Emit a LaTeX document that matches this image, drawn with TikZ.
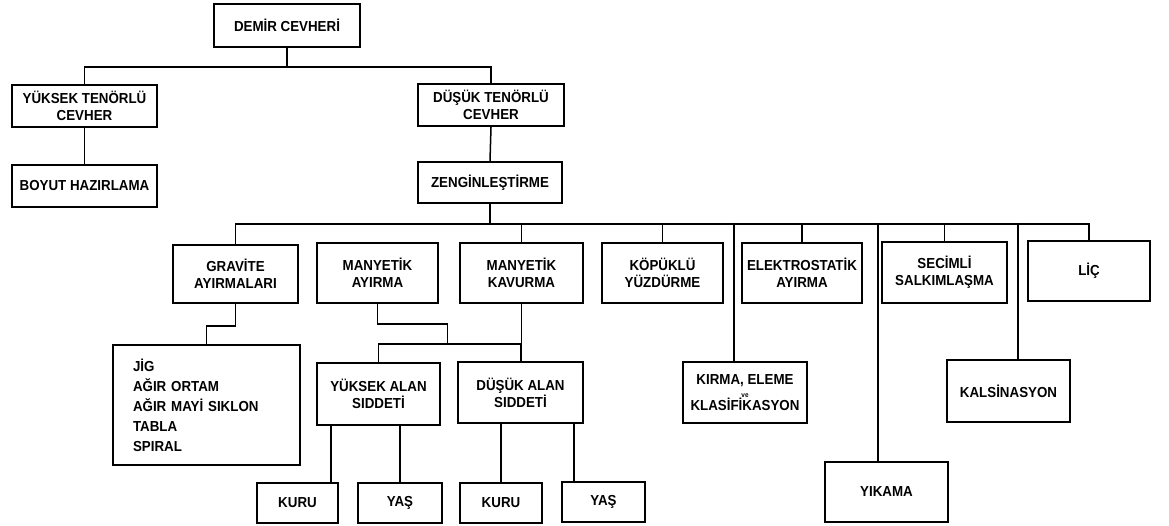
\documentclass[tikz,border=0pt]{standalone}
\usepackage{fontspec}
\setmainfont{Liberation Sans}[FakeStretch=0.92]
\usepackage{tikz}
\usetikzlibrary{positioning,calc}

\begin{document}
\begin{tikzpicture}[x=1pt, y=-1pt, line width=1.5pt,
  box/.style={draw, line width=2pt, inner sep=0pt, align=center, font=\bfseries\fontsize{14.5}{17}\selectfont}]
  \useasboundingbox (0,0) rectangle (1169,526);
  \node[box, minimum width=146pt, minimum height=43pt] (demir) at (287,25.5) {DEMİR CEVHERİ};
  \node[box, minimum width=145pt, minimum height=42pt] (yuksek) at (84.5,106) {YÜKSEK TENÖRLÜ\\CEVHER};
  \node[box, minimum width=145pt, minimum height=42pt] (boyut) at (84.5,186) {BOYUT HAZIRLAMA};
  \node[box, minimum width=146pt, minimum height=42pt] (dusuk) at (491,105) {DÜŞÜK TENÖRLÜ\\CEVHER};
  \node[box, minimum width=144pt, minimum height=41pt] (zengin) at (490,182.5) {ZENGİNLEŞTİRME};
  \node[box, minimum width=125pt, minimum height=58pt] (gravite) at (235.5,274) {GRAVİTE\\AYIRMALARI};
  \node[box, minimum width=121pt, minimum height=60pt] (mayirma) at (377.5,273) {MANYETİK\\AYIRMA};
  \node[box, minimum width=123pt, minimum height=60pt] (mkavurma) at (521.5,273) {MANYETİK\\KAVURMA};
  \node[box, minimum width=121pt, minimum height=60pt] (kopuklu) at (662.5,273) {KÖPÜKLÜ\\YÜZDÜRME};
  \node[box, minimum width=120pt, minimum height=60pt] (elektro) at (802,273) {ELEKTROSTATİK\\AYIRMA};
  \node[box, minimum width=125pt, minimum height=61pt] (secimli) at (944.5,272.5) {SECİMLİ\\SALKIMLAŞMA};
  \node[box, minimum width=122pt, minimum height=60pt] (lic) at (1089,271) {LİÇ};
  \node[box, minimum height=120pt, text width=147pt, inner xsep=20pt, align=left,
    font=\bfseries\fontsize{14.5}{20}\selectfont] (jig) at (206.5,405) {JİG\\AĞIR ORTAM\\AĞIR MAYİ SIKLON\\TABLA\\SPIRAL};
  \node[box, minimum width=123pt, minimum height=62pt] (yalan) at (378.5,394) {YÜKSEK ALAN\\SIDDETİ};
  \node[box, minimum width=125pt, minimum height=61pt] (dalan) at (520.5,392.5) {DÜŞÜK ALAN\\SIDDETİ};
  \node[box, minimum width=81pt, minimum height=40pt] (kuru1) at (297.5,503) {KURU};
  \node[box, minimum width=84pt, minimum height=40pt] (yas1) at (400,503) {YAŞ};
  \node[box, minimum width=82pt, minimum height=40pt] (kuru2) at (501,503) {KURU};
  \node[box, minimum width=83pt, minimum height=40pt] (yas2) at (603.5,502) {YAŞ};
  \node[box, minimum width=124pt, minimum height=61pt] (kirma) at (745,392.5)
    {KIRMA, ELEME\\[-4pt]{\fontsize{7}{7}\selectfont ve}\\[-4pt]KLASİFİKASYON};
  \node[box, minimum width=123pt, minimum height=62pt] (kalsin) at (1008.5,391) {KALSİNASYON};
  \node[box, minimum width=123pt, minimum height=60pt] (yikama) at (886.5,492) {YIKAMA};

  \draw (demir.south) -- ++(0,19) coordinate (t);
  \draw (yuksek.north) |- (t) -| (dusuk.north);
  \draw (yuksek.south) -- (boyut.north);
  \draw (dusuk.south) -- (zengin.north);
  \draw (zengin.south) -- ++(0,20) coordinate (b);
  \draw (gravite.north) |- (b) -| (lic.north);
  \foreach \n in {mkavurma,kopuklu,elektro,secimli}
    \draw (\n.north) -- (\n.north |- b);
  \coordinate (bk) at (734,223);
  \coordinate (by) at (878,223);
  \coordinate (bl) at (1018,223);
  \draw (bk) -- (bk |- kirma.north);
  \draw (by) -- (by |- yikama.north);
  \draw (bl) -- (bl |- kalsin.north);
  \draw (gravite.south) -- ++(0,22) -| (jig.north);
  \draw (mayirma.south) -- ++(0,20) -| ++(70,20) coordinate (m);
  \draw (yalan.north) |- (m) -| (dalan.north);
  \draw (mkavurma.south) -- (mkavurma.south |- dalan.north);
  \coordinate (k1) at ([xshift=-8pt]kuru1.north east);
  \coordinate (y2) at ([xshift=13pt]yas2.north west);
  \draw (k1) -- (k1 |- yalan.south);
  \draw (yas1.north) -- (yas1.north |- yalan.south);
  \draw (kuru2.north) -- (kuru2.north |- dalan.south);
  \draw (y2) -- (y2 |- dalan.south);
\end{tikzpicture}
\end{document}
